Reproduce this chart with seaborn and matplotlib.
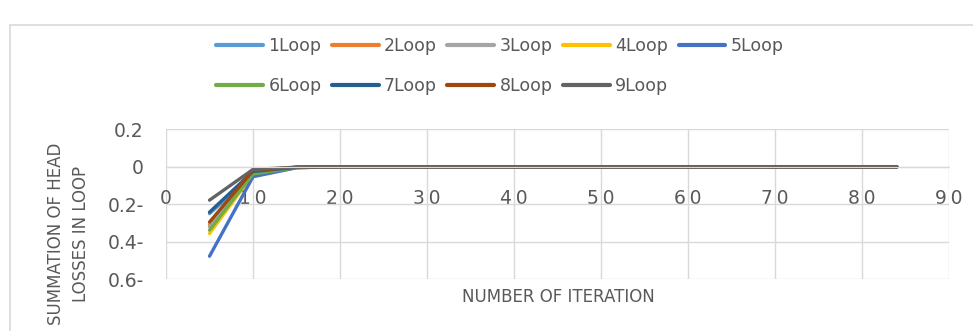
import matplotlib
matplotlib.use("Agg")
import matplotlib.pyplot as plt
import seaborn as sns
import pandas as pd
from matplotlib.patches import Rectangle

iterations = [5, 10, 15, 20, 84]
loops = ["1Loop", "2Loop", "3Loop", "4Loop", "5Loop", "6Loop", "7Loop", "8Loop", "9Loop"]
loop1 = [-0.250, -0.045, -0.004, 0.0, 0.0]
loop2 = [-0.311, -0.035, -0.003, 0.0, 0.0]
loop3 = [-0.320, -0.030, -0.003, 0.0, 0.0]
loop4 = [-0.356, -0.040, -0.004, 0.0, 0.0]
loop5 = [-0.477, -0.053, -0.005, 0.0, 0.0]
loop6 = [-0.338, -0.038, -0.004, 0.0, 0.0]
loop7 = [-0.242, -0.025, -0.003, 0.0, 0.0]
loop8 = [-0.295, -0.020, -0.002, 0.0, 0.0]
loop9 = [-0.178, -0.014, -0.002, 0.0, 0.0]
series = [loop1, loop2, loop3, loop4, loop5, loop6, loop7, loop8, loop9]
colors = ["#5B9BD5", "#ED7D31", "#A5A5A5", "#FFC000", "#4472C4",
          "#70AD47", "#255E91", "#9E480E", "#636363"]
xticks = [0, 10, 20, 30, 40, 50, 60, 70, 80, 90]
xtick_labels = ["0", "1\u20090", "2\u20090", "3\u20090", "4\u20090", "5\u20090",
                "6\u20090", "7\u20090", "8\u20090", "9\u20090"]
yticks = [0.2, 0, -0.2, -0.4, -0.6]
ytick_labels = ["0.2", "0", "0.2-", "0.4-", "0.6-"]

rows = []
for name, vals in zip(loops, series):
    for x, v in zip(iterations, vals):
        rows.append({"Iteration": x, "Value": v, "Loop": name})
df = pd.DataFrame(rows)

sns.set_style("white")
plt.rcParams["font.family"] = ["DejaVu Sans"]
text_color = "#595959"

fig = plt.figure(figsize=(9.73, 3.31), dpi=100)
ax = fig.add_axes([166 / 973, 51.7 / 331, 783 / 973, 150 / 331])

sns.lineplot(data=df, x="Iteration", y="Value", hue="Loop", hue_order=loops,
             palette=colors, linewidth=2.4, ax=ax, legend=True, sort=False)
handles, labels = ax.get_legend_handles_labels()
ax.get_legend().remove()

ax.set_xlim(0, 90)
ax.set_ylim(-0.6, 0.2)
ax.set_xticks(xticks)
ax.set_xticklabels(xtick_labels)
ax.set_yticks(yticks)
ax.set_yticklabels(ytick_labels)
ax.grid(True, color="#d9d9d9", linewidth=1)
ax.set_axisbelow(True)
for s in ["top", "right", "left"]:
    ax.spines[s].set_visible(False)
ax.spines["bottom"].set_position(("data", 0))
ax.spines["bottom"].set_color("#d9d9d9")
ax.tick_params(axis="x", length=0, pad=16, labelsize=13.5, labelcolor=text_color)
ax.tick_params(axis="y", length=0, pad=16, labelsize=13.5, labelcolor=text_color)
ax.set_xlabel("")
ax.set_ylabel("")

fig.text(558 / 973, 1 - 297 / 331, "NUMBER OF ITERATION", ha="center", va="center",
         fontsize=12, color=text_color)
fig.text(69 / 973, 1 - 234 / 331, "SUMMATION OF HEAD\nLOSSES IN LOOP", ha="center",
         va="center", rotation=90, fontsize=12, color=text_color, linespacing=1.5)

# reorder so that matplotlib's column-wise filling gives row-wise legend order
order = [0, 5, 1, 6, 2, 7, 3, 8, 4]
h2 = [handles[i] for i in order]
l2 = [labels[i] for i in order]
leg = fig.legend(h2, l2, loc="center", bbox_to_anchor=(500 / 973, 1 - 66 / 331),
                 ncol=5, frameon=False, fontsize=12.5, handlelength=2.7,
                 handletextpad=0.3, columnspacing=0.6, labelspacing=1.3)
for t in leg.get_texts():
    t.set_color(text_color)
for h in leg.get_lines():
    h.set_linewidth(3)

fig.patches.append(Rectangle((10 / 973, -0.1), 1.0, 1.1 - 25 / 331, transform=fig.transFigure,
                             fill=False, edgecolor="#d9d9d9", linewidth=1.2))

fig.savefig("out.png", dpi=100)
